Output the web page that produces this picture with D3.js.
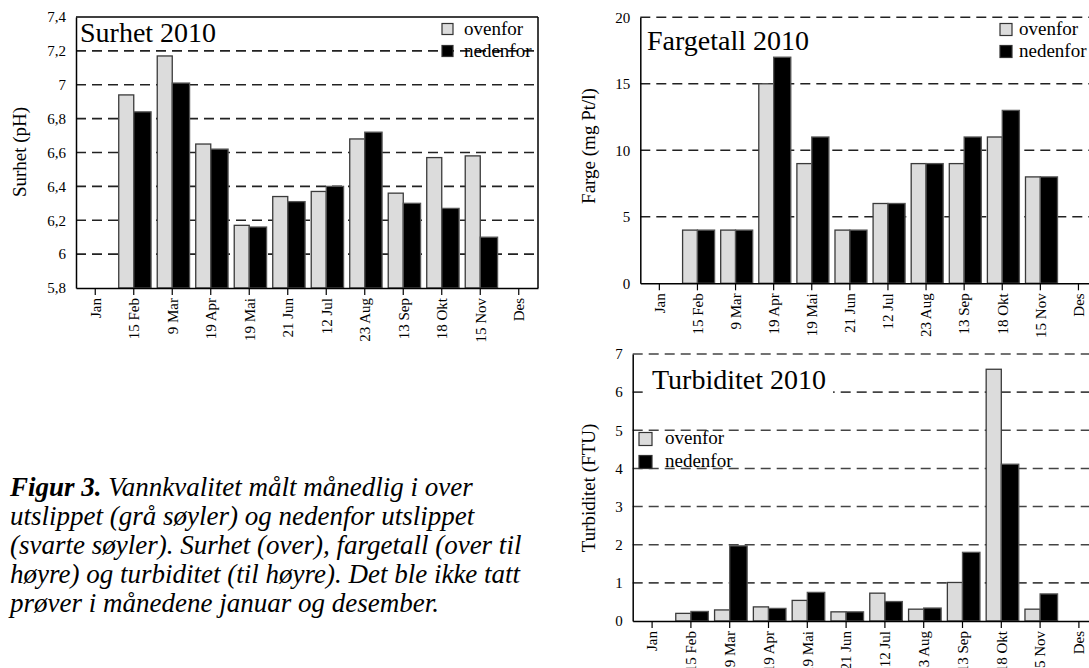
<!DOCTYPE html>
<html><head><meta charset="utf-8">
<script src="https://cdn.jsdelivr.net/npm/d3@7"></script>
<style>
html,body{margin:0;padding:0;background:#fff;}
svg{display:block;font-family:"Liberation Serif","Times New Roman",serif;}
</style></head>
<body>
<svg id="c" width="1089" height="668"></svg>
<script>
// ---- data ----
const months = ["Jan","15 Feb","9 Mar","19 Apr","19 Mai","21 Jun","12 Jul","23 Aug","13 Sep","18 Okt","15 Nov","Des"];
const seriesNames = ["ovenfor","nedenfor"];
const phOvenfor   = [null,6.94,7.17,6.65,6.17,6.34,6.37,6.68,6.36,6.57,6.58,null];
const phNedenfor  = [null,6.84,7.01,6.62,6.16,6.31,6.40,6.72,6.30,6.27,6.10,null];
const fargeOvenfor  = [null,4,4,15,9,4,6,9,9,11,8,null];
const fargeNedenfor = [null,4,4,17,11,4,6,9,11,13,8,null];
const turbOvenfor   = [null,0.20,0.29,0.37,0.54,0.24,0.73,0.31,1.01,6.60,0.31,null];
const turbNedenfor  = [null,0.25,1.97,0.33,0.75,0.24,0.51,0.34,1.80,4.11,0.71,null];
const phTicks    = [5.8,6.0,6.2,6.4,6.6,6.8,7.0,7.2,7.4];
const fargeTicks = [0,5,10,15,20];
const turbTicks  = [0,1,2,3,4,5,6,7];
const captionLines = [
  ["Figur 3.", " Vannkvalitet målt månedlig i over"],
  ["", "utslippet (grå søyler) og nedenfor utslippet"],
  ["", "(svarte søyler). Surhet (over), fargetall (over til"],
  ["", "høyre) og turbiditet (til høyre). Det ble ikke tatt"],
  ["", "prøver i månedene januar og desember."]
];

const svg = d3.select("#c");
const fmt = v => String(+v.toFixed(1)).replace(".", ",");

function drawChart(cfg){
  const g = svg.append("g");
  const x = d3.scaleBand().domain(months).range([cfg.left, cfg.right]).padding(0);
  const y = d3.scaleLinear().domain(cfg.domain).range([cfg.bottom, cfg.top]);
  const bw = x.bandwidth();

  // gridlines
  g.append("g").selectAll("line").data(cfg.grid).join("line")
    .attr("x1", cfg.left).attr("x2", cfg.right)
    .attr("y1", d => y(d)).attr("y2", d => y(d))
    .attr("stroke", cfg.gridColor).attr("stroke-width", 1.6)
    .attr("stroke-dasharray", "10,6");

  if (cfg.titleBg) {
    g.append("rect").attr("x", cfg.titleX - 4).attr("y", cfg.titleY - 22)
      .attr("width", 185).attr("height", 30).attr("fill", "#fff");
  }
  // title
  g.append("text").attr("x", cfg.titleX).attr("y", cfg.titleY)
    .attr("font-size", 28).attr("fill", "#000").text(cfg.title);

  // bars
  const base = y(cfg.domain[0]);
  const series = [
    {vals: cfg.a, fill: "#dcdcdc", stroke: "#3a3a3a", off: -0.39*bw, w: 0.39*bw},
    {vals: cfg.b, fill: "#000000", stroke: "#555555", off: 0, w: 0.45*bw}
  ];
  series.forEach(s => {
    g.append("g").selectAll("rect")
      .data(months.map((m,i) => ({m, v: s.vals[i]})).filter(d => d.v != null))
      .join("rect")
      .attr("x", d => x(d.m) + bw/2 + s.off)
      .attr("width", s.w)
      .attr("y", d => y(d.v))
      .attr("height", d => base - y(d.v))
      .attr("fill", s.fill).attr("stroke", s.stroke).attr("stroke-width", 1.3);
  });

  // frame
  if (cfg.frameTop) {
    g.append("line").attr("x1", cfg.left).attr("x2", cfg.right)
      .attr("y1", cfg.top).attr("y2", cfg.top).attr("stroke", "#000").attr("stroke-width", 1.5);
    g.append("line").attr("x1", cfg.right).attr("x2", cfg.right)
      .attr("y1", cfg.top).attr("y2", cfg.bottom).attr("stroke", "#000").attr("stroke-width", 1.5);
  }
  // left axis
  const ya = d3.axisLeft(y).tickValues(cfg.ticks).tickSize(0).tickPadding(10)
    .tickFormat(cfg.tickFmt);
  const yg = g.append("g").attr("transform", `translate(${cfg.left},0)`).call(ya);
  yg.select(".domain").attr("stroke", "#000").attr("stroke-width", 1.5);
  yg.selectAll("text").attr("font-size", 15).attr("font-family", "Liberation Serif").attr("fill", "#000");

  // bottom axis
  const xa = d3.axisBottom(x).tickSize(7).tickSizeOuter(0);
  const xg = g.append("g").attr("transform", `translate(0,${cfg.bottom})`).call(xa);
  xg.select(".domain").attr("stroke", "#000").attr("stroke-width", 1.5);
  xg.selectAll(".tick line").attr("stroke", "#000").attr("stroke-width", 1.2);
  xg.selectAll("text")
    .attr("font-size", 15).attr("font-family", "Liberation Serif").attr("fill", "#000")
    .attr("transform", "rotate(-90)")
    .attr("text-anchor", "end")
    .attr("x", -10).attr("y", 0).attr("dy", "0.35em");

  // y title
  g.append("text")
    .attr("transform", `translate(${cfg.yTitleX},${cfg.yTitleY}) rotate(-90)`)
    .attr("text-anchor", "middle").attr("dy", "0.35em")
    .attr("font-size", 19).attr("fill", "#000").text(cfg.yTitle);

  // legend
  const lg = g.append("g");
  seriesNames.forEach((n,i) => {
    lg.append("rect").attr("x", cfg.legX).attr("y", cfg.legY[i] - 10.5)
      .attr("width", cfg.legS).attr("height", cfg.legS)
      .attr("fill", i ? "#000" : "#dcdcdc").attr("stroke", "#333").attr("stroke-width", 1.2);
    lg.append("text").attr("x", cfg.legTX).attr("y", cfg.legY[i] + 0.5)
      .attr("font-size", 19).attr("fill", "#000").text(n);
  });
}

drawChart({
  left: 76, right: 538, top: 17, bottom: 288, domain: [5.8, 7.4],
  ticks: phTicks, tickFmt: fmt, grid: phTicks.filter(t => t > 5.9 && t < 7.3),
  gridColor: "#222", frameTop: true,
  a: phOvenfor, b: phNedenfor,
  title: "Surhet 2010", titleX: 80, titleY: 42,
  yTitle: "Surhet (pH)", yTitleX: 19, yTitleY: 152,
  legX: 442, legTX: 464, legY: [34, 56], legS: 11
});
drawChart({
  left: 640.3, right: 640.3 + 12*38.1, top: 17.3, bottom: 283.3, domain: [0, 20],
  ticks: fargeTicks, tickFmt: d => d, grid: fargeTicks.filter(t => t > 0),
  gridColor: "#222", frameTop: false,
  a: fargeOvenfor, b: fargeNedenfor,
  title: "Fargetall 2010", titleX: 647, titleY: 50,
  yTitle: "Farge (mg Pt/l)", yTitleX: 588, yTitleY: 146,
  legX: 1000, legTX: 1019, legY: [34, 56], legS: 12
});
drawChart({
  left: 632.7, right: 632.7 + 12*38.8, top: 354, bottom: 621, domain: [0, 7],
  ticks: turbTicks, tickFmt: d => d, grid: turbTicks.filter(t => t > 0),
  gridColor: "#444", frameTop: false, titleBg: true,
  a: turbOvenfor, b: turbNedenfor,
  title: "Turbiditet 2010", titleX: 652, titleY: 389,
  yTitle: "Turbiditet (FTU)", yTitleX: 588, yTitleY: 488,
  legX: 639, legTX: 665, legY: [443, 466], legS: 13
});

// caption
const capBase = [496, 525, 554, 583, 612];
captionLines.forEach((l, i) => {
  const t = svg.append("text").attr("x", 10).attr("y", capBase[i])
    .attr("font-size", 27).attr("font-style", "italic").attr("fill", "#000");
  if (l[0]) t.append("tspan").attr("font-weight", "bold").text(l[0]);
  t.append("tspan").text(l[1]);
});
</script>
</body></html>
